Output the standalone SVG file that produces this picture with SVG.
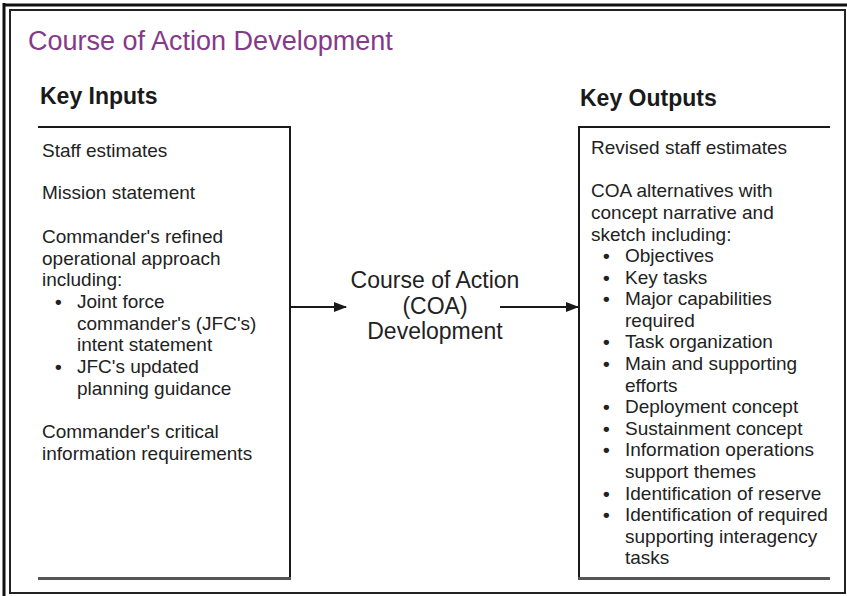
<svg xmlns="http://www.w3.org/2000/svg" width="847" height="596" viewBox="0 0 847 596">
<style>
.t{font-family:"Liberation Sans",Arial,sans-serif;font-size:19px;fill:#222}
.b{font-family:"Liberation Sans",Arial,sans-serif;font-size:19px;font-weight:bold;fill:#222}
.h{font-family:"Liberation Sans",Arial,sans-serif;font-size:23px;font-weight:bold;fill:#1a1a1a}
.c{font-family:"Liberation Sans",Arial,sans-serif;font-size:23px;fill:#222;text-anchor:middle}
.title{font-family:"Liberation Sans",Arial,sans-serif;font-size:27px;fill:#86398a}
.ln{stroke:#1a1a1a;stroke-width:2;fill:none}
.bl{stroke:#555;stroke-width:3;fill:none}
</style>
<defs>
<marker id="ah" markerWidth="13" markerHeight="10" refX="12" refY="5" orient="auto" markerUnits="userSpaceOnUse">
<path d="M0,0 L13,5 L0,10 Z" fill="#1a1a1a"/>
</marker>
</defs>
<rect width="847" height="596" fill="#fff"/>
<g id="frame">
<line x1="4" y1="3" x2="4" y2="596" stroke="#111" stroke-width="3"/>
<line x1="3" y1="5" x2="847" y2="5" stroke="#111" stroke-width="3"/>
<rect x="10" y="10" width="835" height="583" fill="none" stroke="#222" stroke-width="2"/>
</g>
<g id="title"><text class="title" x="28" y="50">Course of Action Development</text></g>
<g id="inputs">
<text class="h" x="40" y="104">Key Inputs</text>
<line class="ln" x1="38" y1="127" x2="290" y2="127"/>
<line class="ln" x1="290" y1="126" x2="290" y2="579"/>
<line class="bl" x1="38" y1="578.5" x2="291" y2="578.5"/>
<text class="t" x="42" y="157">Staff estimates</text>
<text class="t" x="42" y="199">Mission statement</text>
<text class="t" x="42" y="243">Commander's refined</text>
<text class="t" x="42" y="264.6">operational approach</text>
<text class="t" x="42" y="286">including:</text>
<text class="b" x="55" y="308">•</text>
<text class="t" x="77" y="308">Joint force</text>
<text class="t" x="77" y="329.5">commander's (JFC's)</text>
<text class="t" x="77" y="351">intent statement</text>
<text class="b" x="55" y="373">•</text>
<text class="t" x="77" y="373">JFC's updated</text>
<text class="t" x="77" y="394.5">planning guidance</text>
<text class="t" x="42" y="438">Commander's critical</text>
<text class="t" x="42" y="460">information requirements</text>
</g>
<g id="process">
<text class="c" x="435" y="288">Course of Action</text>
<text class="c" x="435" y="313.5">(COA)</text>
<text class="c" x="435" y="339">Development</text>
</g>
<g id="outputs">
<text class="h" x="580" y="106">Key Outputs</text>
<line class="ln" x1="579" y1="127" x2="830" y2="127"/>
<line class="ln" x1="579" y1="126" x2="579" y2="579"/>
<line class="bl" x1="578" y1="578.5" x2="830" y2="578.5"/>
<text class="t" x="591" y="154">Revised staff estimates</text>
<text class="t" x="591" y="197">COA alternatives with</text>
<text class="t" x="591" y="219">concept narrative and</text>
<text class="t" x="591" y="241">sketch including:</text>
<g class="b">
<text x="603" y="262">•</text>
<text x="603" y="283.6">•</text>
<text x="603" y="305.2">•</text>
<text x="603" y="348.4">•</text>
<text x="603" y="370">•</text>
<text x="603" y="413.2">•</text>
<text x="603" y="434.8">•</text>
<text x="603" y="456.4">•</text>
<text x="603" y="499.6">•</text>
<text x="603" y="521.2">•</text>
</g>
<text class="t" x="625" y="262">Objectives</text>
<text class="t" x="625" y="283.6">Key tasks</text>
<text class="t" x="625" y="305.2">Major capabilities</text>
<text class="t" x="625" y="326.8">required</text>
<text class="t" x="625" y="348.4">Task organization</text>
<text class="t" x="625" y="370">Main and supporting</text>
<text class="t" x="625" y="391.6">efforts</text>
<text class="t" x="625" y="413.2">Deployment concept</text>
<text class="t" x="625" y="434.8">Sustainment concept</text>
<text class="t" x="625" y="456.4">Information operations</text>
<text class="t" x="625" y="478">support themes</text>
<text class="t" x="625" y="499.6">Identification of reserve</text>
<text class="t" x="625" y="521.2">Identification of required</text>
<text class="t" x="625" y="542.8">supporting interagency</text>
<text class="t" x="625" y="564.4">tasks</text>
</g>
<g id="connectors">
<line class="ln" x1="291" y1="307" x2="346" y2="307" marker-end="url(#ah)"/>
<line class="ln" x1="500" y1="307" x2="578" y2="307" marker-end="url(#ah)"/>
</g>
</svg>
